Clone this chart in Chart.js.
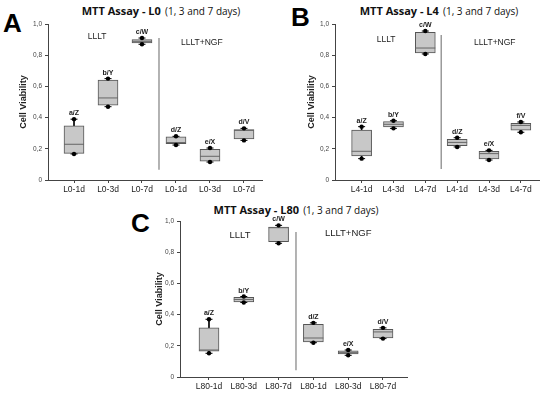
<!DOCTYPE html>
<html><head><meta charset="utf-8">
<script src="https://cdn.jsdelivr.net/npm/chart.js@4.4.1/dist/chart.umd.min.js"></script>
<style>
body{margin:0;background:#fff;width:550px;height:394px;overflow:hidden;position:relative;font-family:'Liberation Sans',Arial,sans-serif}
canvas{position:absolute}
.t{position:absolute;font-family:'Open Sans',sans-serif;white-space:nowrap;color:#111;transform:translate(-50%,-50%);line-height:1}
.t b{font-size:11px}
.t span{font-size:10px}
.p{position:absolute;font-family:'Liberation Sans',Arial,sans-serif;font-weight:bold;font-size:26px;color:#000;line-height:1}
</style></head><body>
<div class="p" style="left:3px;top:10px">A</div>
<div class="p" style="left:291px;top:4px">B</div>
<div class="p" style="left:131px;top:210px">C</div>
<div class="t" style="left:161px;top:9px"><b>MTT Assay - L0</b> <span>(1, 3 and 7 days)</span></div>
<div class="t" style="left:439px;top:9px"><b>MTT Assay - L4</b> <span>(1, 3 and 7 days)</span></div>
<div class="t" style="left:296px;top:208px"><b>MTT Assay - L80</b> <span>(1, 3 and 7 days)</span></div>
<canvas id="cA" width="275" height="200" style="left:0;top:0"></canvas>
<canvas id="cB" width="275" height="200" style="left:275px;top:0"></canvas>
<canvas id="cC" width="290" height="204" style="left:130px;top:190px"></canvas>
<script>
// ---- data ----
const catsA = ['L0-1d','L0-3d','L0-7d','L0-1d','L0-3d','L0-7d'];
const q1A  = [0.171,0.479,0.878,0.233,0.120,0.263];
const q3A  = [0.348,0.641,0.900,0.276,0.197,0.323];
const medA = [0.229,0.526,0.889,0.240,0.152,0.318];
const minA = [0.167,0.470,0.870,0.224,0.115,0.254];
const maxA = [0.390,0.650,0.910,0.280,0.205,0.331];
const lblA = ['a/Z','b/Y','c/W','d/Z','e/X','d/V'];

const catsB = ['L4-1d','L4-3d','L4-7d','L4-1d','L4-3d','L4-7d'];
const q1B  = [0.154,0.340,0.814,0.220,0.135,0.320];
const q3B  = [0.320,0.374,0.947,0.260,0.184,0.363];
const medB = [0.184,0.357,0.846,0.241,0.169,0.350];
const minB = [0.137,0.331,0.808,0.212,0.128,0.306];
const maxB = [0.342,0.380,0.955,0.271,0.190,0.372];
const lblB = ['a/Z','b/Y','c/W','d/Z','e/X','f/V'];

const catsC = ['L80-1d','L80-3d','L80-7d','L80-1d','L80-3d','L80-7d'];
const q1C  = [0.165,0.482,0.867,0.225,0.148,0.250];
const q3C  = [0.315,0.510,0.961,0.338,0.167,0.306];
const medC = [0.173,0.497,0.957,0.250,0.156,0.289];
const minC = [0.152,0.478,0.857,0.220,0.139,0.246];
const maxC = [0.370,0.516,0.972,0.347,0.173,0.315];
const lblC = ['a/Z','b/Y','c/W','d/Z','e/X','d/V'];

const yTicks = [0,0.2,0.4,0.6,0.8,1.0];
const groupNames = ['LLLT','LLLT+NGF'];

// ---- drawing ----
const FONT = "'Liberation Sans', Arial, sans-serif";
const textPlugin = {
  id:'txt',
  afterDatasetsDraw(chart, args, o){
    const {ctx, scales:{x,y}} = chart;
    ctx.save();
    ctx.fillStyle='#222'; ctx.textAlign='center'; ctx.textBaseline='alphabetic';
    ctx.font='bold 7px '+FONT;
    o.labels.forEach((t,i)=>ctx.fillText(t, x.getPixelForValue(i+1), y.getPixelForValue(o.max[i]) - 4));
    ctx.font=o.gsize+'px '+FONT; ctx.textBaseline='middle'; ctx.fillStyle='#222';
    o.groups.forEach(g=>ctx.fillText(g.text, x.getPixelForValue(g.x), y.getPixelForValue(g.y)));
    ctx.restore();
  }
};

function makeChart(id, cats, q1, q3, med, mn, mx, lbls, L){
  const xs = cats.map((_,i)=>i+1);
  const datasets = [
    {type:'scatter', data:xs.flatMap((x,i)=>[{x,y:mx[i]},{x,y:mn[i]}]), pointStyle:'circle', radius:2.2, backgroundColor:'#000', borderWidth:0},
    {type:'scatter', data:xs.flatMap((x,i)=>[{x,y:mx[i]},{x,y:mn[i]}]), pointStyle:'line', radius:3.5, borderColor:'#000', borderWidth:1},
    {type:'scatter', data:xs.map((x,i)=>({x,y:med[i]})), pointStyle:'line', radius:10, borderColor:'#666', borderWidth:1},
    {type:'bar', data:xs.map((x,i)=>({x,y:[q1[i],q3[i]]})), backgroundColor:'#c8c8c8', borderColor:'#555', borderWidth:1, borderSkipped:false, barThickness:20, grouped:false},
    {type:'bar', data:xs.map((x,i)=>({x,y:[q3[i],mx[i]]})), backgroundColor:'#000', borderWidth:0, barThickness:1, grouped:false},
    {type:'bar', data:xs.map((x,i)=>({x,y:[mn[i],q1[i]]})), backgroundColor:'#000', borderWidth:0, barThickness:1, grouped:false},
    {type:'line', data:[{x:3.5,y:L.div[0]},{x:3.5,y:L.div[1]}], borderColor:'#9a9a9a', borderWidth:1.5, pointRadius:0}
  ];
  new Chart(document.getElementById(id), {
    type:'bar',
    data:{datasets},
    plugins:[textPlugin],
    options:{
      responsive:false, animation:false, events:[],
      layout:{padding:{top:L.pt, right:L.pr, left:0, bottom:0}},
      plugins:{legend:{display:false}, tooltip:{enabled:false},
        txt:{labels:lbls, max:mx, gsize:L.gs, groups:[{text:groupNames[0],x:L.g1[0],y:L.g1[1]},{text:groupNames[1],x:L.g2[0],y:L.g2[1]}]}},
      scales:{
        x:{type:'linear', min:L.xmin, max:L.xmax, offset:false,
           afterBuildTicks:s=>{s.ticks = xs.map(v=>({value:v}));},
           afterFit:s=>{s.height = L.xh;},
           grid:{drawOnChartArea:false, offset:false, tickLength:3, color:'#444'},
           border:{display:true, color:'#444', width:1},
           ticks:{autoSkip:false, maxRotation:0, padding:2, color:'#222', font:{family:FONT, size:8.5}, callback:(v,i)=>cats[i]}},
        y:{type:'linear', min:0, max:1,
           afterBuildTicks:s=>{s.ticks = yTicks.map(v=>({value:v}));},
           afterFit:s=>{s.width = L.yw;},
           grid:{drawOnChartArea:false, tickLength:3, color:'#444'},
           border:{display:true, color:'#444', width:1},
           ticks:{padding:3, color:'#444', font:{family:FONT, size:6.5}, callback:v=> v===0 ? '0' : v.toFixed(1).replace('.',',')},
           title:{display:true, text:'Cell Viability', color:'#222', font:{family:FONT, size:9, weight:'bold'}, padding:{top:L.tp, bottom:0}}}
      }
    }
  });
}

makeChart('cA', catsA, q1A, q3A, medA, minA, maxA, lblA,
  {pt:24, pr:13, xh:20, yw:48, tp:18, xmin:0.235, xmax:6.53, div:[0.066,0.91], g1:[1.68,0.917], g2:[4.76,0.88], gs:8.5});
makeChart('cB', catsB, q1B, q3B, medB, minB, maxB, lblB,
  {pt:24, pr:8, xh:20, yw:60, tp:31, xmin:0.164, xmax:6.57, div:[0.07,0.93], g1:[1.77,0.90], g2:[5.18,0.88], gs:8.5});
makeChart('cC', catsC, q1C, q3C, medC, minC, maxC, lblC,
  {pt:31, pr:13, xh:17, yw:50, tp:24, xmin:0.167, xmax:6.69, div:[0.043,0.93], g1:[1.89,0.91], g2:[5.0,0.92], gs:9.5});
</script>
</body></html>
